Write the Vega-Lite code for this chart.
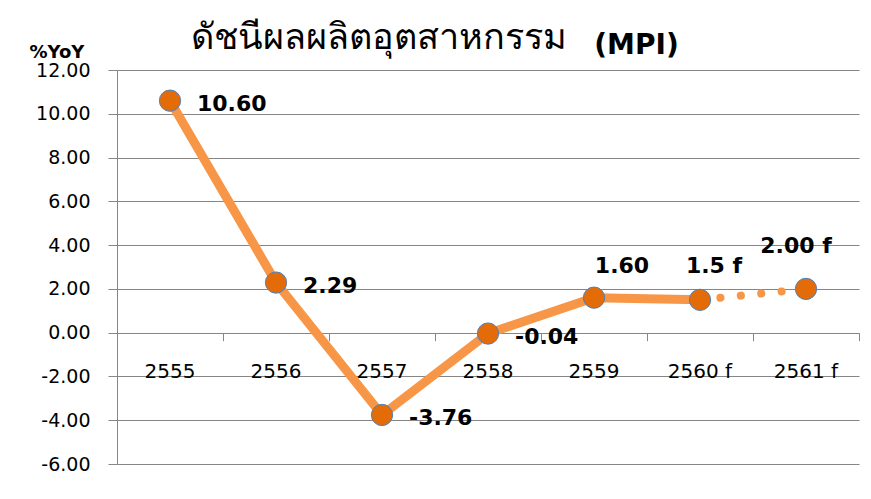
{
  "$schema": "https://vega.github.io/schema/vega-lite/v6.json",
  "width": 742,
  "height": 394,
  "autosize": {"type": "none"},
  "padding": {"left": 117, "top": 70, "right": 12, "bottom": 35},
  "background": "white",
  "config": {"view": {"stroke": null}, "font": "DejaVu Sans"},
  "title": {
    "text": "ดัชนีผลผลิตอุตสาหกรรม",
    "anchor": "start",
    "dx": 162,
    "dy": 53,
    "offset": 0,
    "baseline": "alphabetic",
    "font": "Noto Sans",
    "fontSize": 36,
    "fontWeight": "normal",
    "color": "#000000"
  },
  "data": {
    "values": [
      {"year": "2555", "value": 10.60, "label": "10.60"},
      {"year": "2556", "value": 2.29, "label": "2.29"},
      {"year": "2557", "value": -3.76, "label": "-3.76"},
      {"year": "2558", "value": -0.04, "label": "-0.04"},
      {"year": "2559", "value": 1.60, "label": "1.60"},
      {"year": "2560 f", "value": 1.5, "label": "1.5 f"},
      {"year": "2561 f", "value": 2.00, "label": "2.00 f"}
    ]
  },
  "encoding": {
    "x": {
      "field": "year",
      "type": "nominal",
      "sort": null,
      "scale": {"type": "band", "paddingInner": 0, "paddingOuter": 0},
      "axis": {
        "orient": "bottom",
        "offset": -131.33,
        "bandPosition": 1,
        "tickExtra": true,
        "tickSize": 8,
        "tickColor": "#868686",
        "domain": false,
        "grid": false,
        "labelAngle": 0,
        "labelFontSize": 20,
        "labelColor": "#000000",
        "labelPadding": 21,
        "title": "(MPI)",
        "titleFontSize": 28,
        "titleFontWeight": "bold",
        "titleColor": "#000000",
        "titleX": 519,
        "titleY": -279,
        "titleAlign": "center",
        "titleBaseline": "alphabetic",
        "titleAngle": 0
      }
    },
    "y": {
      "field": "value",
      "type": "quantitative",
      "scale": {"domain": [-6, 12], "nice": false, "zero": false},
      "axis": {
        "values": [-6, -4, -2, 0, 2, 4, 6, 8, 10, 12],
        "labelExpr": "datum.value < 0 ? '-' + format(-datum.value, '.2f') : format(datum.value, '.2f')",
        "labelFontSize": 19,
        "labelColor": "#000000",
        "labelPadding": 18,
        "tickSize": 9,
        "tickColor": "#868686",
        "domainColor": "#868686",
        "gridColor": "#868686",
        "gridWidth": 1,
        "title": "%YoY",
        "titleAngle": 0,
        "titleX": -88,
        "titleY": -13,
        "titleAlign": "left",
        "titleBaseline": "alphabetic",
        "titleFontSize": 18,
        "titleFontWeight": "bold",
        "titleColor": "#000000"
      }
    }
  },
  "layer": [
    {
      "transform": [{"filter": "datum.year != '2561 f'"}],
      "mark": {"type": "line", "color": "#F79646", "strokeWidth": 9, "strokeJoin": "round"}
    },
    {
      "transform": [{"filter": "datum.year == '2560 f' || datum.year == '2561 f'"}],
      "mark": {"type": "line", "color": "#F79646", "strokeWidth": 8, "strokeDash": [0.1, 20.4], "strokeCap": "round"}
    },
    {
      "mark": {"type": "point", "shape": "circle", "filled": true, "size": 452, "fill": "#E36C09", "stroke": "#4F81BD", "strokeWidth": 1, "opacity": 1}
    },
    {
      "transform": [{"filter": "indexof(['2555','2556','2557','2558'], datum.year) >= 0"}],
      "mark": {"type": "text", "align": "left", "baseline": "middle", "dx": 27, "dy": 3, "fontSize": 22, "fontWeight": "bold", "color": "#000000"},
      "encoding": {"text": {"field": "label"}}
    },
    {
      "transform": [{"filter": "datum.year == '2559'"}],
      "mark": {"type": "text", "align": "center", "baseline": "middle", "dx": 28, "dy": -32, "fontSize": 22, "fontWeight": "bold", "color": "#000000"},
      "encoding": {"text": {"field": "label"}}
    },
    {
      "transform": [{"filter": "datum.year == '2560 f'"}],
      "mark": {"type": "text", "align": "center", "baseline": "middle", "dx": 14, "dy": -34, "fontSize": 22, "fontWeight": "bold", "color": "#000000"},
      "encoding": {"text": {"field": "label"}}
    },
    {
      "transform": [{"filter": "datum.year == '2561 f'"}],
      "mark": {"type": "text", "align": "center", "baseline": "middle", "dx": -10, "dy": -43, "fontSize": 22, "fontWeight": "bold", "color": "#000000"},
      "encoding": {"text": {"field": "label"}}
    }
  ]
}
